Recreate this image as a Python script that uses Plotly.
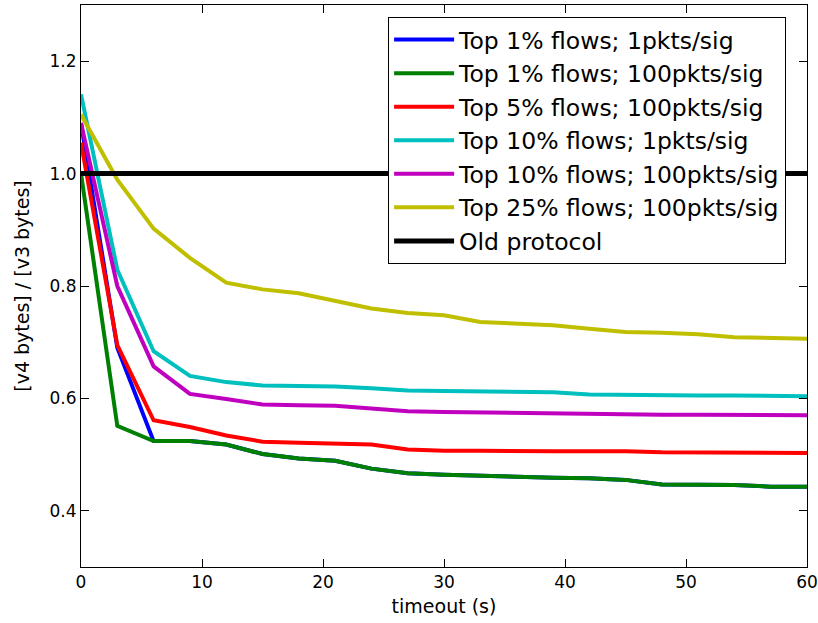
import plotly.graph_objects as go

timeout = [0, 3, 6, 9, 12, 15, 18, 21, 24, 27, 30, 33, 36, 39, 42, 45, 48, 51, 54, 57, 60]

top1_1pkt = [1.09, 0.69, 0.524, 0.524, 0.518, 0.501, 0.493, 0.489, 0.475, 0.467, 0.464, 0.462, 0.461, 0.459, 0.458, 0.455, 0.447, 0.447, 0.446, 0.443, 0.443]
top1_100pkt = [1.0, 0.551, 0.524, 0.524, 0.518, 0.501, 0.493, 0.489, 0.475, 0.467, 0.464, 0.462, 0.461, 0.459, 0.458, 0.455, 0.447, 0.447, 0.446, 0.443, 0.443]
top5_100pkt = [1.055, 0.695, 0.561, 0.549, 0.534, 0.523, 0.521, 0.520, 0.518, 0.509, 0.507, 0.507, 0.506, 0.506, 0.506, 0.506, 0.504, 0.504, 0.504, 0.503, 0.503]
top10_1pkt = [1.141, 0.829, 0.684, 0.640, 0.629, 0.623, 0.622, 0.621, 0.618, 0.614, 0.613, 0.612, 0.612, 0.611, 0.607, 0.606, 0.605, 0.605, 0.605, 0.604, 0.604]
top10_100pkt = [1.09, 0.80, 0.657, 0.608, 0.599, 0.589, 0.588, 0.587, 0.582, 0.577, 0.576, 0.575, 0.575, 0.574, 0.573, 0.572, 0.571, 0.571, 0.571, 0.570, 0.570]
top25_100pkt = [1.105, 0.989, 0.902, 0.850, 0.806, 0.794, 0.787, 0.774, 0.760, 0.752, 0.748, 0.736, 0.733, 0.730, 0.724, 0.718, 0.717, 0.714, 0.709, 0.707, 0.706]
old_protocol = [1.0] * len(timeout)

x_ticks = [0, 10, 20, 30, 40, 50, 60]
y_ticks = [0.4, 0.6, 0.8, 1.0, 1.2]
y_tick_labels = ["0.4", "0.6", "0.8", "1.0", "1.2"]

series = [
    ("Top 1% flows; 1pkts/sig", top1_1pkt, "#0000ff"),
    ("Top 1% flows; 100pkts/sig", top1_100pkt, "#008000"),
    ("Top 5% flows; 100pkts/sig", top5_100pkt, "#ff0000"),
    ("Top 10% flows; 1pkts/sig", top10_1pkt, "#00bfbf"),
    ("Top 10% flows; 100pkts/sig", top10_100pkt, "#bf00bf"),
    ("Top 25% flows; 100pkts/sig", top25_100pkt, "#bfbf00"),
    ("Old protocol", old_protocol, "#000000"),
]

fig = go.Figure()
for i, (name, vals, color) in enumerate(series):
    fig.add_trace(go.Scatter(
        x=timeout, y=vals, mode="lines", name=name,
        line=dict(color=color, width=5 if name == "Old protocol" else 4),
        legendgroup=f"g{i}",
    ))

axis_common = dict(
    showline=True, linecolor="black", linewidth=1, mirror="ticks",
    ticks="inside", ticklen=8, tickcolor="black", showgrid=False, zeroline=False,
    automargin=False,
    tickfont=dict(family="DejaVu Sans", size=17, color="black"),
)

fig.update_layout(
    width=818, height=623,
    margin=dict(l=81, r=11, t=5, b=56),
    plot_bgcolor="white", paper_bgcolor="white",
    font=dict(family="DejaVu Sans", color="black"),
    xaxis=dict(range=[0, 60], tickvals=x_ticks,
               title=dict(text="timeout (s)", font=dict(size=19), standoff=8), **axis_common),
    yaxis=dict(range=[0.3, 1.3], tickvals=y_ticks, ticktext=y_tick_labels,
               title=dict(text="[v4 bytes] / [v3 bytes]", font=dict(size=19), standoff=14), **axis_common),
    legend=dict(
        x=0.423, y=0.979, xanchor="left", yanchor="top",
        bgcolor="white", bordercolor="black", borderwidth=1,
        font=dict(family="DejaVu Sans", size=23.5, color="black"),
        traceorder="grouped", tracegroupgap=0, itemwidth=60,
    ),
    showlegend=True,
)

fig.write_html("out.html", config={"displayModeBar": False},
               post_script="document.body.style.margin='0';document.body.style.overflow='hidden';")
